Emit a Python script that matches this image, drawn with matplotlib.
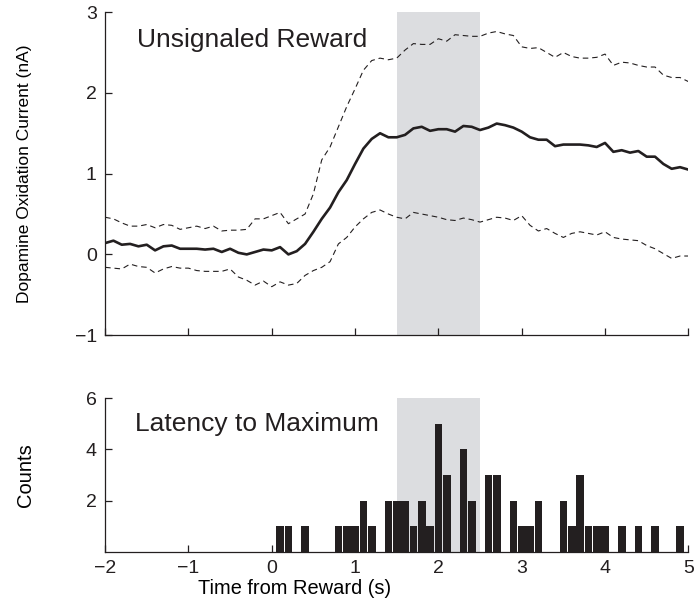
import numpy as np
import matplotlib
matplotlib.use("Agg")
import matplotlib.pyplot as plt

plt.rcParams['font.family'] = ['Liberation Sans', 'DejaVu Sans']

# time axis of the averaged trace (0.1 s steps)
t = np.round(np.arange(-2.0, 5.01, 0.1), 1)

mean_trace = [0.14, 0.17, 0.12, 0.13, 0.10, 0.12, 0.05, 0.10, 0.11, 0.07,
              0.07, 0.07, 0.06, 0.07, 0.03, 0.07, 0.02, 0.00, 0.03, 0.06,
              0.05, 0.09, 0.00, 0.04, 0.13, 0.28, 0.44, 0.58, 0.77, 0.92,
              1.12, 1.31, 1.43, 1.50, 1.45, 1.45, 1.48, 1.56, 1.58, 1.53,
              1.55, 1.55, 1.52, 1.59, 1.58, 1.54, 1.57, 1.62, 1.60, 1.57,
              1.52, 1.45, 1.42, 1.42, 1.34, 1.36, 1.36, 1.36, 1.35, 1.33,
              1.38, 1.27, 1.29, 1.26, 1.28, 1.21, 1.21, 1.12, 1.06, 1.08,
              1.05]

upper_trace = [0.46, 0.44, 0.39, 0.35, 0.35, 0.37, 0.33, 0.37, 0.36, 0.31,
               0.33, 0.35, 0.32, 0.35, 0.29, 0.30, 0.30, 0.31, 0.44, 0.44,
               0.48, 0.52, 0.38, 0.44, 0.50, 0.75, 1.17, 1.33, 1.58, 1.83,
               2.05, 2.28, 2.40, 2.43, 2.41, 2.43, 2.53, 2.61, 2.60, 2.60,
               2.67, 2.64, 2.72, 2.71, 2.70, 2.70, 2.74, 2.76, 2.73, 2.71,
               2.57, 2.55, 2.56, 2.50, 2.44, 2.50, 2.45, 2.43, 2.43, 2.44,
               2.48, 2.34, 2.38, 2.37, 2.34, 2.32, 2.32, 2.22, 2.19, 2.19,
               2.14]

lower_trace = [-0.16, -0.17, -0.18, -0.12, -0.15, -0.16, -0.23, -0.18, -0.15, -0.17,
               -0.17, -0.20, -0.21, -0.21, -0.21, -0.18, -0.28, -0.32, -0.38, -0.33,
               -0.40, -0.34, -0.38, -0.36, -0.26, -0.20, -0.16, -0.09, 0.13, 0.21,
               0.34, 0.44, 0.52, 0.55, 0.50, 0.46, 0.44, 0.52, 0.50, 0.48,
               0.46, 0.43, 0.42, 0.45, 0.43, 0.40, 0.43, 0.46, 0.45, 0.42,
               0.48, 0.36, 0.29, 0.32, 0.26, 0.21, 0.26, 0.28, 0.26, 0.24,
               0.28, 0.21, 0.19, 0.18, 0.17, 0.11, 0.07, 0.01, -0.05, -0.02,
               -0.02]

# latency histogram (bin centres, counts)
bin_centers = [0.1, 0.2, 0.4, 0.8, 0.9, 1.0, 1.1, 1.2, 1.4, 1.5,
               1.6, 1.7, 1.8, 1.9, 2.0, 2.1, 2.3, 2.4, 2.6, 2.7,
               2.9, 3.0, 3.1, 3.2, 3.5, 3.6, 3.7, 3.8, 3.9, 4.0,
               4.2, 4.4, 4.6, 4.9]
counts = [1, 1, 1, 1, 1, 1, 2, 1, 2, 2,
          2, 1, 2, 1, 5, 3, 4, 2, 3, 3,
          2, 1, 1, 2, 2, 1, 3, 1, 1, 1,
          1, 1, 1, 1]

window = (1.5, 2.5)
xticks = [-2, -1, 0, 1, 2, 3, 4, 5]

fig = plt.figure(figsize=(6.96, 6.05), dpi=100)
ax1 = fig.add_axes([0.151, 0.446, 0.838, 0.534])
ax2 = fig.add_axes([0.151, 0.088, 0.838, 0.254])

shade = '#dcdde0'
ink = '#231f20'

# top: averaged oxidation current
ax1.axvspan(*window, color=shade, lw=0, zorder=0)
ax1.plot(t, mean_trace, color=ink, lw=1.9, zorder=3)
ax1.plot(t, upper_trace, color=ink, lw=0.8, ls=(0, (5, 3.5)), zorder=2)
ax1.plot(t, lower_trace, color=ink, lw=0.8, ls=(0, (5, 3.5)), zorder=2)
ax1.set_xlim(-2, 5)
ax1.set_ylim(-1, 3)
ax1.set_yticks([-1, 0, 1, 2, 3])
ax1.set_yticklabels(['\u22121', '0', '1', '2', '3'])
ax1.set_xticks(xticks)
ax1.set_xticklabels([])
ax1.set_ylabel('Dopamine Oxidation Current (nA)', fontsize=12.5)
ax1.yaxis.set_label_coords(-0.125, 0.5)
ax1.text(-1.62, 2.65, 'Unsignaled Reward', fontsize=19, va='center', color=ink)

# bottom: latency histogram
ax2.axvspan(*window, color=shade, lw=0, zorder=0)
ax2.bar(bin_centers, counts, width=0.092, color=ink, zorder=2)
ax2.set_xlim(-2, 5)
ax2.set_ylim(0, 6)
ax2.set_yticks([2, 4, 6])
ax2.set_xticks(xticks)
ax2.set_xticklabels(['\u22122', '\u22121', '0', '1', '2', '3', '4', '5'])
ax2.set_xlabel('Time from Reward (s)', fontsize=14.4)
ax2.xaxis.set_label_coords(0.324, -0.175)
ax2.set_ylabel('Counts', fontsize=14.5)
ax2.yaxis.set_label_coords(-0.12, 0.5)
ax2.text(-1.64, 5.0, 'Latency to Maximum', fontsize=19, va='center', color=ink)

for ax in (ax1, ax2):
    ax.spines['top'].set_visible(False)
    ax.spines['right'].set_visible(False)
    for s in ('left', 'bottom'):
        ax.spines[s].set_linewidth(0.9)
        ax.spines[s].set_color(ink)
    ax.tick_params(direction='in', length=5, width=0.9, labelsize=14,
                   colors=ink, pad=6)
    ax.set_facecolor('none')

fig.savefig('out.png', dpi=100)
